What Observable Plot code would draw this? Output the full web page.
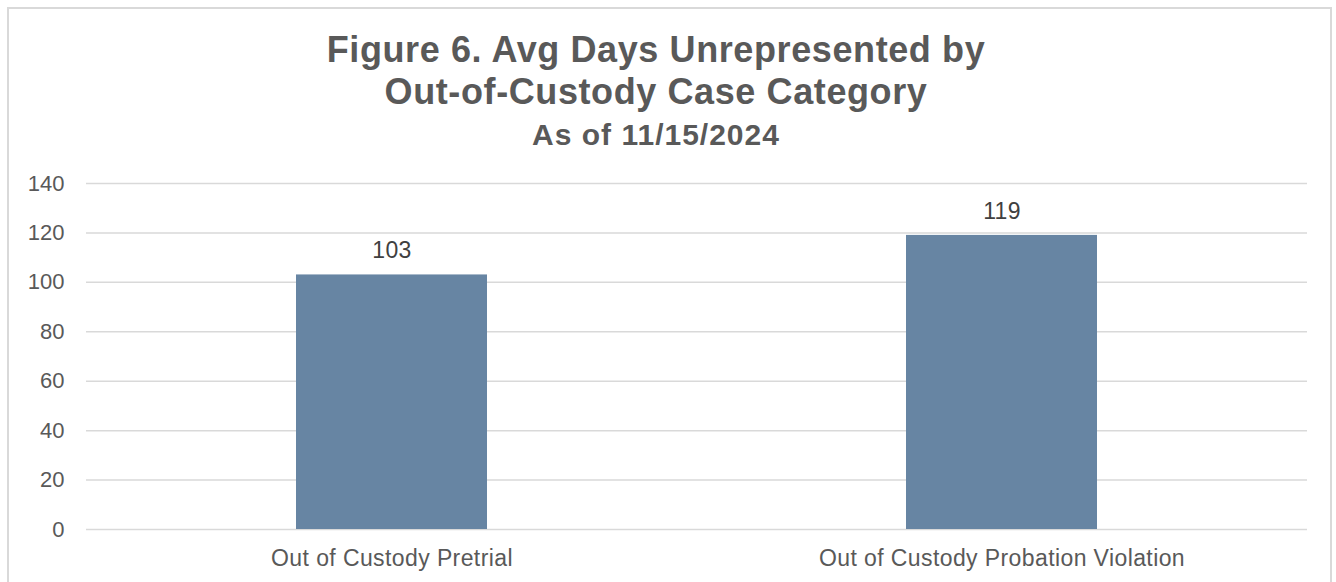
<!DOCTYPE html>
<html>
<head>
<meta charset="utf-8">
<script src="https://cdn.jsdelivr.net/npm/d3@7"></script>
<script src="https://cdn.jsdelivr.net/npm/@observablehq/plot@0.6"></script>
<style>
  html, body { margin: 0; padding: 0; background: #fff; }
  #wrap { position: relative; width: 1336px; height: 582px; overflow: hidden; font-family: "Liberation Sans", Arial, sans-serif; }
  #frame { position: absolute; left: 7px; top: 7px; width: 1325px; height: 600px; border: 2px solid #d9d9d9; box-sizing: border-box; }
  .t { position: absolute; left: 0; width: 1312px; text-align: center; color: #595959; font-weight: bold; white-space: nowrap; }
  #t1 { top: 32px; font-size: 36px; line-height: 36px; letter-spacing: 0.6px; }
  #t2 { top: 74px; font-size: 36px; line-height: 36px; letter-spacing: 0.6px; }
  #t3 { top: 120px; font-size: 30px; line-height: 30px; letter-spacing: 1px; }
  #chart { position: absolute; left: 0; top: 160px; }
  .xax text { font-size: 23px; letter-spacing: 0.4px; }
  .vals text { letter-spacing: 0.3px; }
</style>
</head>
<body>
<div id="wrap">
  <div id="frame"></div>
  <div class="t" id="t1">Figure 6. Avg Days Unrepresented by</div>
  <div class="t" id="t2">Out-of-Custody Case Category</div>
  <div class="t" id="t3">As of 11/15/2024</div>
  <div id="chart"></div>
</div>
<script>
const categories = ["Out of Custody Pretrial", "Out of Custody Probation Violation"];
const values = [103, 119];
const yTicks = [0, 20, 40, 60, 80, 100, 120, 140];

const data = categories.map((c, i) => ({category: c, value: values[i]}));

const chart = Plot.plot({
  width: 1336,
  height: 422,
  marginLeft: 86,
  marginRight: 29,
  marginTop: 23,
  marginBottom: 53,
  style: {fontFamily: '"Liberation Sans", Arial, sans-serif', fontSize: "22px", color: "#595959", background: "transparent", overflow: "visible"},
  x: {domain: categories, paddingInner: 0.687, paddingOuter: 0.3435, label: null},
  y: {domain: [0, 140], label: null},
  marks: [
    Plot.ruleY(yTicks, {stroke: "#d9d9d9", strokeWidth: 1.5}),
    Plot.barY(data, {x: "category", y: "value", fill: "#6785a3"}),
    Plot.text(data, {x: "category", y: "value", text: d => String(d.value), lineAnchor: "middle", dy: -24, fill: "#404040", fontSize: 23, className: "vals"}),
    Plot.axisY({ticks: yTicks, tickSize: 0, tickPadding: 22, label: null}),
    Plot.axisX({tickSize: 0, tickPadding: 20, label: null, className: "xax"})
  ]
});
document.getElementById("chart").appendChild(chart);
</script>
</body>
</html>
